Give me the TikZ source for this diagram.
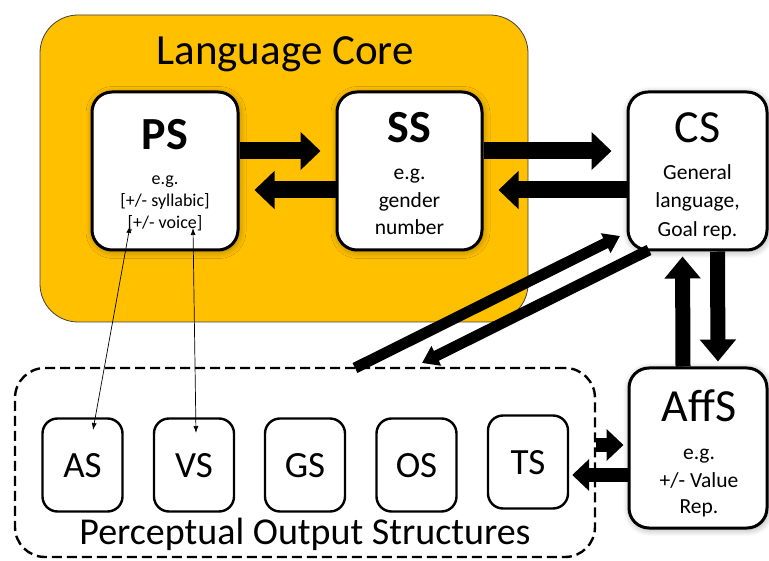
\documentclass[tikz,border=0pt]{standalone}
\usepackage{fontspec}
\setmainfont{Carlito}
\usetikzlibrary{arrows.meta,shadows.blur}
\definecolor{gold}{HTML}{FFC000}
\begin{document}
\begin{tikzpicture}[x=1pt,y=-1pt,
  mainbox/.style={draw=black, line width=3pt, fill=white, rounded corners=20pt, inner sep=0pt,
    blur shadow={shadow xshift=1pt, shadow yshift=-1.5pt, shadow blur radius=7pt, shadow blur steps=14, shadow opacity=35}},
  smallbox/.style={draw=black, line width=2.4pt, fill=white, rounded corners=15pt, inner sep=0pt,
    minimum width=80pt, minimum height=93pt},
  ttl/.style={anchor=base, inner sep=0pt, font=\fontsize{46}{46}\selectfont},
  subA/.style={anchor=base, inner sep=0pt, font=\fontsize{18}{18}\selectfont},
  subB/.style={anchor=base, inner sep=0pt, font=\fontsize{21.5}{21.5}\selectfont},
  sml/.style={anchor=base, inner sep=0pt, font=\fontsize{37}{37}\selectfont},
  bigarrow/.style={line width=17pt, -{Triangle[width=37pt,length=20pt]}},
  vertarrow/.style={line width=15pt, -{Triangle[width=35pt,length=22pt]}},
  sidearrow/.style={line width=14pt, -{Triangle[width=31pt,length=17pt]}},
  diagarrow/.style={line width=11pt, -{Triangle[width=21pt,length=16pt]}},
  thinarrow/.style={line width=0.7pt, {Latex[length=7pt,width=5pt]}-{Latex[length=7pt,width=5pt]}}
]
\useasboundingbox (0,0) rectangle (769,561);

% Language core background
\node[draw=black!75, line width=0.8pt, fill=gold, rounded corners=38pt,
      minimum width=488pt, minimum height=307pt, inner sep=0pt] (core) at (284,168.5) {};
\node[anchor=base, inner sep=0pt, font=\fontsize{43}{43}\selectfont] (coretitle) at (285,65) {Language Core};

% Perceptual output structures frame
\node[draw=black, line width=2.4pt, dash pattern=on 10pt off 5pt, rounded corners=30pt,
      minimum width=580pt, minimum height=189pt, inner sep=0pt] (pos) at (305,462.5) {};
\node[anchor=base, inner sep=0pt, font=\fontsize{38}{38}\selectfont] (postitle) at (305,544) {Perceptual Output Structures};

% main boxes
\node[mainbox, minimum width=146pt, minimum height=158pt] (ps) at (165,171) {};
\node[mainbox, minimum width=145pt, minimum height=158pt] (ss) at (409.5,171) {};
\node[mainbox, minimum width=139pt, minimum height=158pt] (cs) at (697.5,171) {};
\node[mainbox, minimum width=138pt, minimum height=160pt] (affs) at (698,448) {};

% small boxes
\node[smallbox] (as) at (82.5,465) {};
\node[smallbox] (vs) at (194,465) {};
\node[smallbox] (gs) at (305,465) {};
\node[smallbox] (os) at (416.5,465) {};
\node[smallbox] (ts) at (528,462) {};

% texts
\node[ttl, font=\bfseries\fontsize{46}{46}\selectfont] (pst) at (165,150) {PS};
\node[subA] (ps1) at (165,185) {e.g.};
\node[subA] (ps2) at (165,207) {[+/- syllabic]};
\node[subA] (ps3) at (165,229) {[+/- voice]};

\node[ttl, font=\bfseries\fontsize{46}{46}\selectfont] (sst) at (409.5,143) {SS};
\node[subB] (ss1) at (409.5,180) {e.g.};
\node[subB] (ss2) at (409.5,208) {gender};
\node[subB] (ss3) at (409.5,235) {number};

\node[ttl] (cst) at (697.5,143) {CS};
\node[subB] (cs1) at (697.5,180) {General};
\node[subB] (cs2) at (697.5,208) {language,};
\node[subB] (cs3) at (697.5,237) {Goal rep.};

\node[ttl] (affst) at (699,422) {AffS};
\node[subB] (af1) at (699,460) {e.g.};
\node[subB] (af2) at (699,487) {+/- Value};
\node[subB] (af3) at (699,513) {Rep.};

\node[sml] (ast) at (82.5,477) {AS};
\node[sml] (vst) at (194,477) {VS};
\node[sml] (gst) at (305,477) {GS};
\node[sml] (ost) at (416.5,477) {OS};
\node[sml] (tst) at (528,475) {TS};

% big horizontal arrows
\draw[bigarrow, shorten >=15pt] ([yshift=20pt]ps.east) -- ([yshift=20pt]ss.west);
\draw[bigarrow, shorten >=15pt] ([yshift=-19pt]ss.west) -- ([yshift=-19pt]ps.east);
\draw[bigarrow, shorten >=15pt] ([yshift=20pt]ss.east) -- ([yshift=20pt]cs.west);
\draw[bigarrow, shorten >=15pt] ([yshift=-19pt]cs.west) -- ([yshift=-19pt]ss.east);

% vertical arrows CS <-> AffS
\draw[vertarrow, shorten >=5pt] ([xshift=-15pt]affs.north) -- ([xshift=-15pt]cs.south);
\draw[vertarrow, shorten >=5pt] ([xshift=20pt]cs.south) -- ([xshift=20pt]affs.north);

% side arrows POS <-> AffS
\coordinate (ra) at ([yshift=17.5pt]pos.east);
\coordinate (la) at ([yshift=-27pt]affs.west);
\draw[sidearrow, shorten >=4pt] (ra) -- (affs.west |- ra);
\draw[sidearrow, shorten >=3pt] (la) -- (ts.east |- la);

% diagonal arrows
\coordinate (d1a) at (355,368);
\coordinate (d1b) at (620,236);
\coordinate (d2a) at (649,250);
\coordinate (d2b) at (422,363);
\draw[diagarrow] (d1a) -- (d1b);
\draw[diagarrow] (d2a) -- (d2b);

% thin arrows PS <-> AS, VS
\coordinate (t1a) at (130,226);
\coordinate (t1b) at (93,430);
\coordinate (t2a) at (193,228);
\coordinate (t2b) at (196,433);
\draw[thinarrow] (t1a) -- (t1b);
\draw[thinarrow] (t2a) -- (t2b);
\end{tikzpicture}
\end{document}
